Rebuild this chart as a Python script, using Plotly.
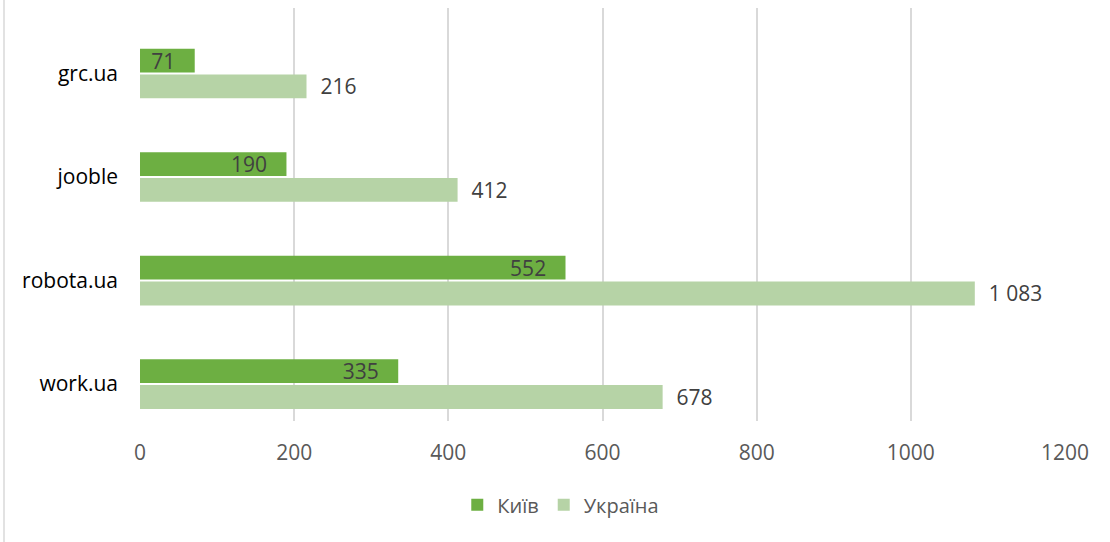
import plotly.graph_objects as go

categories = ["work.ua", "robota.ua", "jooble", "grc.ua"]
kyiv = [335, 552, 190, 71]
ukraine = [678, 1083, 412, 216]
x_ticks = [0, 200, 400, 600, 800, 1000, 1200]

def fmt(v):
    return f"{v:,}".replace(",", " ")

NB = "\u00a0"
FONT = "Open Sans"
TXT = "#404040"
FS = 21

fig = go.Figure()
fig.add_trace(go.Bar(
    y=categories, x=ukraine, orientation="h", name="Україна",
    marker=dict(color="#b6d3a6", line=dict(width=0)),
    text=[NB * 2 + fmt(v) for v in ukraine], textposition="outside",
    textangle=0, constraintext="none",
    textfont=dict(family=FONT, size=FS, color=TXT), cliponaxis=False,
))
fig.add_trace(go.Bar(
    y=categories, x=kyiv, orientation="h", name="Київ",
    marker=dict(color="#6daf42", line=dict(width=0)),
    text=[fmt(v) + NB * 3 for v in kyiv], textposition="inside", insidetextanchor="end",
    textangle=0, constraintext="none",
    textfont=dict(family=FONT, size=FS, color=TXT),
))

fig.update_layout(
    width=1110, height=542,
    margin=dict(l=140, r=45, t=8, b=121, autoexpand=False),
    paper_bgcolor="white", plot_bgcolor="white",
    barmode="group", bargap=0.5, bargroupgap=0.08,
    font=dict(family=FONT, size=FS, color="#595959"),
    showlegend=True,
    legend=dict(orientation="h", x=0.343, xanchor="left", y=-0.203, yanchor="middle",
                traceorder="reversed", font=dict(family=FONT, size=20, color="#595959"),
                itemwidth=30),
    xaxis=dict(range=[0, 1200], tickvals=x_ticks, ticktext=[str(v) for v in x_ticks],
               showgrid=True, gridcolor="#d9d9d9", gridwidth=1.5,
               zeroline=False, showline=False, automargin=False,
               ticks="outside", ticklen=0, ticklabelstandoff=13,
               tickfont=dict(family=FONT, size=FS, color="#595959")),
    yaxis=dict(range=[-0.357, 3.633], showgrid=False, zeroline=False, showline=False,
               automargin=False, ticklabelstandoff=21,
               tickfont=dict(family=FONT, size=FS, color="#000000")),
    shapes=[dict(type="line", xref="paper", yref="paper",
                 x0=-136/925, x1=-136/925, y0=-0.3, y1=1.02,
                 line=dict(color="#d9d9d9", width=1.5))],
)

fig.write_html("out.html", config={"displayModeBar": False},
               post_script="document.body.style.margin='0';")
